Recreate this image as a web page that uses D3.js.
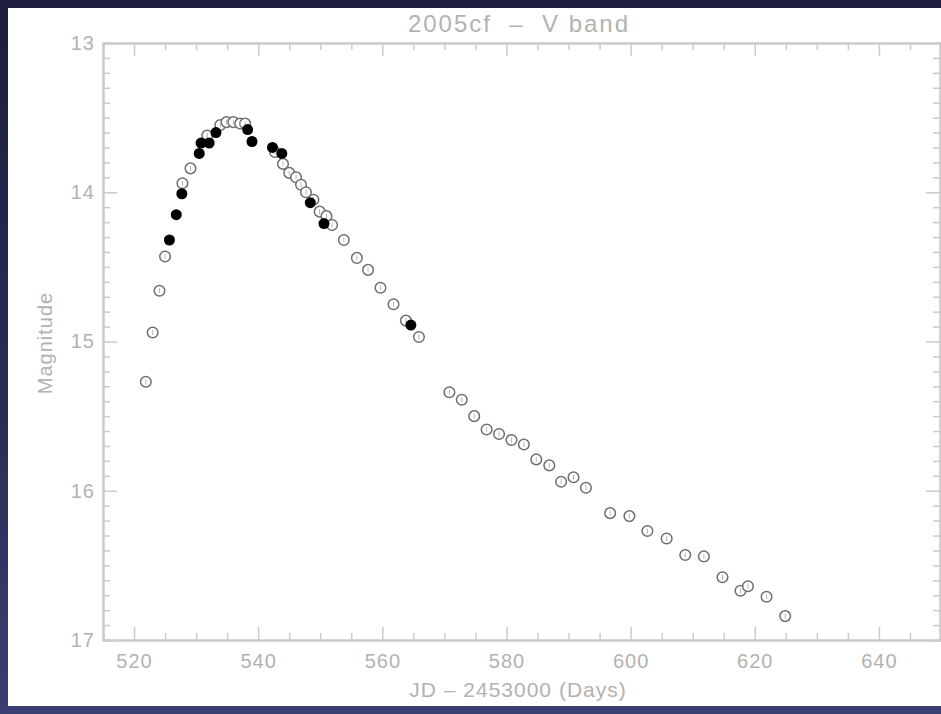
<!DOCTYPE html>
<html lang="en">
<head>
  <meta charset="UTF-8">
  <title>2005cf - V band</title>
  <style>
    * {box-sizing: border-box;}
    html, body {
      margin: 0;
      padding: 0;
      width: 941px;
      height: 714px;
      overflow: hidden;
      background: linear-gradient(to bottom, #1d1e3e 0%, #2b2d58 60%, #3a3e72 100%);
    }
    svg { display: block; }
    text { font-family: "Liberation Sans", "DejaVu Sans", sans-serif; fill: #b2b2b2; }
  </style>
</head>
<body>
  <svg id="chart"></svg>

  <script src="https://d3js.org/d3.v7.min.js"></script>
  <script>
    // open symbols: JD - 2453000 and V magnitude
    const openDays = [521.9, 523.0, 524.1, 525.0, 527.8, 529.1, 531.8, 533.9, 534.9, 536.0, 537.1, 537.9,
      542.7, 544.0, 545.0, 546.1, 546.9, 547.7, 548.9, 549.9, 551.0, 551.9, 553.8, 555.9, 557.7, 559.7,
      561.8, 563.8, 565.9, 570.8, 572.8, 574.8, 576.8, 578.8, 580.8, 582.8, 584.8, 586.9, 588.8, 590.8,
      592.8, 596.7, 599.8, 602.7, 605.8, 608.8, 611.8, 614.8, 617.7, 618.9, 621.9, 624.9]
    const openMags = [15.27, 14.94, 14.66, 14.43, 13.94, 13.84, 13.62, 13.55, 13.53, 13.53, 13.54, 13.54,
      13.73, 13.81, 13.87, 13.90, 13.95, 14.00, 14.05, 14.13, 14.16, 14.22, 14.32, 14.44, 14.52, 14.64,
      14.75, 14.86, 14.97, 15.34, 15.39, 15.50, 15.59, 15.62, 15.66, 15.69, 15.79, 15.83, 15.94, 15.91,
      15.98, 16.15, 16.17, 16.27, 16.32, 16.43, 16.44, 16.58, 16.67, 16.64, 16.71, 16.84]

    // filled symbols
    const filledDays = [525.7, 526.8, 527.7, 530.5, 530.8, 532.1, 533.2, 538.3, 539.0, 542.3, 543.8, 548.4, 550.6, 564.6]
    const filledMags = [14.32, 14.15, 14.01, 13.74, 13.67, 13.67, 13.60, 13.58, 13.66, 13.70, 13.74, 14.07, 14.21, 14.89]

    const xTicks = [520, 540, 560, 580, 600, 620, 640]
    const yTicks = [13, 14, 15, 16, 17]

    const W = 941, H = 714
    const svg = d3.select('#chart').attr('width', W).attr('height', H)

    // white slide panel
    svg.append('rect').attr('x', 8).attr('y', 8).attr('width', W - 8).attr('height', H - 16).attr('fill', '#ffffff')

    const x = d3.scaleLinear([515, 650], [103, 941])
    const y = d3.scaleLinear([13, 17], [43, 640])

    const axisColor = '#cbcbcb'
    function style (g) {
      g.select('.domain').attr('stroke', axisColor).attr('stroke-width', 2)
      g.selectAll('.tick line').attr('stroke', axisColor).attr('stroke-width', 1.5)
      g.selectAll('.tick text').attr('fill', '#b2b2b2').style('font-size', '20px').style('letter-spacing', '1px')
      g.attr('font-family', null).attr('font-size', null)
    }

    // minor ticks
    const xMinor = d3.range(520, 650, 5).filter(v => v % 20 !== 0)
    const yMinor = d3.range(13.1, 17, 0.1).map(v => +v.toFixed(1)).filter(v => v % 1 !== 0)

    svg.append('g').attr('transform', `translate(0,${y(17)})`)
      .call(d3.axisBottom(x).tickValues(xMinor).tickSize(-7).tickFormat(''))
      .call(style)
    svg.append('g').attr('transform', `translate(0,${y(13)})`)
      .call(d3.axisTop(x).tickValues(xMinor).tickSize(-7).tickFormat(''))
      .call(style)
    svg.append('g').attr('transform', `translate(${x(515)},0)`)
      .call(d3.axisLeft(y).tickValues(yMinor).tickSize(-7).tickFormat(''))
      .call(style)
    svg.append('g').attr('transform', `translate(${x(650) - 1},0)`)
      .call(d3.axisRight(y).tickValues(yMinor).tickSize(-7).tickFormat(''))
      .call(style)

    // major ticks
    svg.append('g').attr('transform', `translate(0,${y(17)})`)
      .call(d3.axisBottom(x).tickValues(xTicks).tickSizeInner(-13).tickSizeOuter(0).tickPadding(14).tickFormat(d3.format('d')))
      .call(style)
    svg.append('g').attr('transform', `translate(0,${y(13)})`)
      .call(d3.axisTop(x).tickValues(xTicks).tickSizeInner(-13).tickSizeOuter(0).tickFormat(''))
      .call(style)
    svg.append('g').attr('transform', `translate(${x(515)},0)`)
      .call(d3.axisLeft(y).tickValues(yTicks).tickSizeInner(-14).tickSizeOuter(0).tickPadding(8).tickFormat(d3.format('d')))
      .call(style)
    svg.append('g').attr('transform', `translate(${x(650) - 1},0)`)
      .call(d3.axisRight(y).tickValues(yTicks).tickSizeInner(-14).tickSizeOuter(0).tickFormat(''))
      .call(style)

    // open circles with tiny error bars
    const open = openDays.map((d, i) => ({d, m: openMags[i]}))
    const filled = filledDays.map((d, i) => ({d, m: filledMags[i]}))

    const og = svg.append('g')
    og.selectAll('circle').data(open).join('circle')
      .attr('cx', p => x(p.d)).attr('cy', p => y(p.m)).attr('r', 5.3)
      .attr('fill', '#ffffff').attr('stroke', '#6f6f6f').attr('stroke-width', 1.5)
    og.selectAll('line').data(open).join('line')
      .attr('x1', p => x(p.d)).attr('x2', p => x(p.d))
      .attr('y1', p => y(p.m) - 2.5).attr('y2', p => y(p.m) + 2.5)
      .attr('stroke', '#b5b5b5').attr('stroke-width', 1)

    svg.append('g').selectAll('circle').data(filled).join('circle')
      .attr('cx', p => x(p.d)).attr('cy', p => y(p.m)).attr('r', 5.5)
      .attr('fill', '#000000')

    // titles
    svg.append('text').attr('x', 519).attr('y', 32).attr('text-anchor', 'middle')
      .style('font-size', '24px').style('letter-spacing', '2px').attr('fill', '#a8a8a8')
      .text('2005cf  \u2013  V band').attr('xml:space', 'preserve')
    svg.append('text').attr('x', 518).attr('y', 697).attr('text-anchor', 'middle')
      .style('font-size', '21px').style('letter-spacing', '1px')
      .text('JD \u2013 2453000 (Days)')
    svg.append('text').attr('transform', 'translate(52,343) rotate(-90)').attr('text-anchor', 'middle')
      .style('font-size', '20px').style('letter-spacing', '1px')
      .text('Magnitude')
  </script>
</body>
</html>
